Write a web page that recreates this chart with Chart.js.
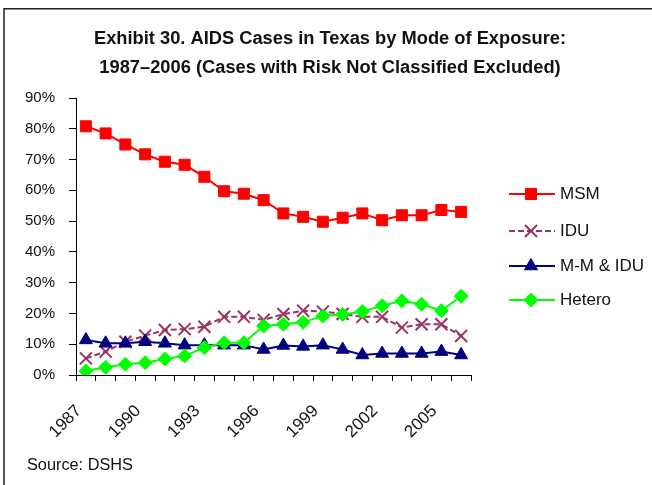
<!DOCTYPE html>
<html>
<head>
<meta charset="utf-8">
<script src="https://cdn.jsdelivr.net/npm/chart.js@4.4.0/dist/chart.umd.min.js"></script>
<style>
  html, body { margin: 0; padding: 0; background: #fff; }
  #wrap { width: 652px; height: 485px; }
</style>
</head>
<body>
<div id="wrap"><canvas id="grafico" width="652" height="485"></canvas></div>
<script>
// Dados (percentual dos casos)
const anos = ['1987', '1988', '1989', '1990', '1991', '1992', '1993', '1994', '1995', '1996',
              '1997', '1998', '1999', '2000', '2001', '2002', '2003', '2004', '2005', '2006'];
const anosVisiveis = ['1987', '1990', '1993', '1996', '1999', '2002', '2005'];
const msm = [80.8, 78.5, 74.9, 71.7, 69.3, 68.3, 64.4, 59.7, 58.9, 56.8,
             52.5, 51.4, 49.8, 51.1, 52.5, 50.3, 51.9, 51.9, 53.6, 53.0];
const idu = [5.4, 7.6, 10.8, 12.8, 14.6, 14.9, 15.7, 18.9, 18.9, 17.9,
             19.8, 20.9, 20.6, 19.8, 18.9, 18.9, 15.4, 16.5, 16.5, 12.7];
const mmIdu = [11.4, 10.3, 10.3, 10.8, 10.3, 9.7, 9.7, 9.7, 9.7, 8.3,
               9.6, 9.3, 9.7, 8.3, 6.5, 7.0, 7.0, 7.0, 7.6, 6.5];
const hetero = [1.3, 2.5, 3.5, 4.0, 5.2, 6.2, 8.9, 10.5, 10.5, 15.9,
                16.5, 17.1, 19.2, 19.7, 20.6, 22.5, 24.1, 23.0, 20.9, 25.6];
const yMax = 90;
const yStep = 10;

const tituloLinhas = [
    'Exhibit 30. AIDS Cases in Texas by Mode of Exposure:',
    '1987\u20132006 (Cases with Risk Not Classified Excluded)'
];
const fonte = 'Source: DSHS';
const familia = "'Liberation Sans', Arial, sans-serif";

/** Moldura, título e nota de fonte desenhados no canvas. */
const molduraPlugin = {
    id: 'moldura',
    afterDraw(chart) {
        const ctx = chart.ctx;
        ctx.save();
        ctx.strokeStyle = '#222';
        ctx.lineWidth = 1.5;
        ctx.beginPath();
        ctx.moveTo(652, 8.75);
        ctx.lineTo(4, 8.75);
        ctx.lineTo(4, 485);
        ctx.stroke();

        ctx.fillStyle = '#111';
        ctx.textAlign = 'center';
        ctx.textBaseline = 'alphabetic';
        ctx.font = `bold 18.3px ${familia}`;
        ctx.fillText(tituloLinhas[0], 330, 44);
        ctx.fillText(tituloLinhas[1], 330, 73);

        ctx.textAlign = 'left';
        ctx.font = `16.3px ${familia}`;
        ctx.fillText(fonte, 27, 470);
        ctx.restore();
    }
};

/** Legenda à direita com linha + marcador, no estilo do Excel. */
const legendaPlugin = {
    id: 'legendaLinha',
    afterDraw(chart) {
        const ctx = chart.ctx;
        const posY = [194, 231, 266, 300];
        chart.data.datasets.forEach((ds, i) => {
            const y = posY[i];
            ctx.save();
            ctx.strokeStyle = ds.borderColor;
            ctx.lineWidth = ds.borderWidth;
            ctx.setLineDash(ds.borderDash || []);
            ctx.beginPath();
            ctx.moveTo(509, y);
            ctx.lineTo(555, y);
            ctx.stroke();
            ctx.setLineDash([]);
            ctx.fillStyle = ds.pointBackgroundColor;
            ctx.strokeStyle = ds.pointBorderColor;
            ctx.lineWidth = ds.pointBorderWidth;
            Chart.helpers.drawPoint(ctx, {
                pointStyle: ds.pointStyle,
                radius: ds.pointRadius,
                rotation: 0,
                borderWidth: ds.pointBorderWidth
            }, 531, y);
            ctx.fillStyle = '#111';
            ctx.font = `17px ${familia}`;
            ctx.textAlign = 'left';
            ctx.textBaseline = 'middle';
            ctx.fillText(ds.label, 560, y);
            ctx.restore();
        });
    }
};

function serie(label, data, cor, estilo, raio, ordem, extra) {
    return Object.assign({
        label: label,
        data: data,
        borderColor: cor,
        backgroundColor: cor,
        borderWidth: 2,
        pointStyle: estilo,
        pointRadius: raio,
        pointHoverRadius: raio,
        pointBackgroundColor: cor,
        pointBorderColor: cor,
        pointBorderWidth: 1,
        tension: 0,
        order: ordem
    }, extra || {});
}

const datasets = [
    serie('MSM', msm, '#ff0000', 'rect', 7.8, 4),
    serie('IDU', idu, '#993366', 'crossRot', 8.5, 3, { borderDash: [6, 3], pointBorderWidth: 2 }),
    serie('M-M & IDU', mmIdu, '#000080', 'triangle', 7.5, 2),
    serie('Hetero', hetero, '#00ff00', 'rectRot', 7, 1)
];

new Chart(document.getElementById('grafico'), {
    type: 'line',
    data: { labels: anos, datasets: datasets },
    options: {
        responsive: false,
        devicePixelRatio: 1,
        animation: false,
        layout: { padding: { top: 98, right: 181, bottom: 0, left: 0 } },
        plugins: {
            legend: { display: false },
            title: { display: false },
            tooltip: { enabled: false }
        },
        scales: {
            x: {
                offset: true,
                grid: { display: true, offset: true, drawOnChartArea: false, tickLength: 6, color: '#000' },
                border: { color: '#000', width: 1 },
                ticks: {
                    autoSkip: false,
                    minRotation: 45,
                    maxRotation: 45,
                    padding: 20,
                    labelOffset: -7,
                    color: '#111',
                    font: { family: familia, size: 17 },
                    callback: function (value) {
                        const ano = this.getLabelForValue(value);
                        return anosVisiveis.includes(ano) ? ano : '';
                    }
                },
                afterFit: scale => { scale.height = 110; }
            },
            y: {
                min: 0,
                max: yMax,
                grid: { display: true, drawOnChartArea: false, tickLength: 7, color: '#000' },
                border: { color: '#000', width: 1 },
                ticks: {
                    stepSize: yStep,
                    padding: 14,
                    color: '#111',
                    font: { family: familia, size: 15 },
                    callback: v => v + '%'
                },
                afterFit: scale => { scale.width = 76; }
            }
        }
    },
    plugins: [molduraPlugin, legendaPlugin]
});
</script>
</body>
</html>
